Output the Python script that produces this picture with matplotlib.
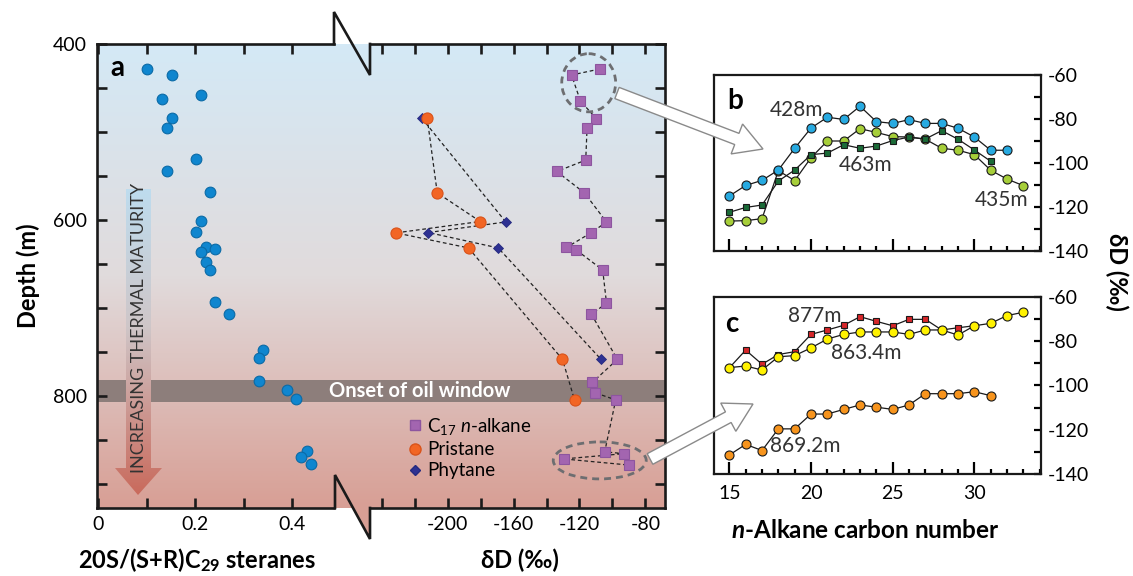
import numpy as np
import matplotlib
matplotlib.use('Agg')
import matplotlib.pyplot as plt
from matplotlib.colors import LinearSegmentedColormap
from matplotlib.patches import Polygon, Ellipse, Rectangle, FancyArrow
from matplotlib.lines import Line2D
from matplotlib.ticker import FixedLocator, MultipleLocator
import matplotlib.transforms as mtransforms

plt.rcParams['font.family'] = ['Lato', 'DejaVu Sans']
plt.rcParams['mathtext.fontset'] = 'custom'
plt.rcParams['mathtext.rm'] = 'Lato'
plt.rcParams['mathtext.it'] = 'Lato:italic'
plt.rcParams['mathtext.bf'] = 'Lato:bold'
plt.rcParams['mathtext.bfit'] = 'Lato:bold:italic'

# --- panel a: sterane isomerisation ratio vs depth
sterane_ratio = [0.101, 0.151, 0.131, 0.211, 0.151, 0.142, 0.201, 0.141, 0.230, 0.211,
                 0.201, 0.221, 0.240, 0.211, 0.221, 0.230, 0.240, 0.270, 0.339, 0.330,
                 0.330, 0.389, 0.408, 0.429, 0.418, 0.438]
sterane_depth = [428, 435, 462, 458, 484, 495, 530, 544, 568, 601,
                 613, 630, 633, 636, 647, 656, 693, 706, 747, 757,
                 783, 793, 803, 862, 869, 877]

# --- panel a: dD of C17 n-alkane, pristane, phytane
c17_depth = [428.4, 435.2, 464.8, 484.8, 495.8, 531.8, 544.7, 569, 602, 614, 631, 634,
             656.5, 694, 707, 758, 784, 796, 804, 863, 865, 871, 878]
c17_dD = [-107.7, -124.8, -119.4, -109.7, -115.4, -116.2, -133.8, -117.0, -103.6, -112.7,
          -127.9, -121.8, -105.9, -103.6, -112.7, -97.0, -112.1, -110.3, -98.0, -104.7,
          -92.7, -129.5, -89.7]
pristane_depth = [484, 569, 601.5, 614.4, 631.5, 758, 804]
pristane_dD = [-212.4, -206.3, -180.2, -231.3, -187.3, -130.3, -123.0]
phytane_depth = [484, 602, 614, 631.5, 758]
phytane_dD = [-215.8, -164.7, -211.7, -169.3, -106.9]

oil_window = (781, 806)

# --- panel b: n-alkane dD profiles
carbon_428 = list(range(15, 33))
dD_428 = [-115.0, -110.2, -107.9, -103.2, -93.3, -84.1, -79.2, -80.2, -74.2, -81.2,
          -82.0, -80.3, -82.0, -82.0, -84.2, -88.2, -94.2, -94.2]
carbon_463 = list(range(15, 32))
dD_463 = [-122.4, -120.2, -119.1, -108.2, -103.2, -96.2, -95.5, -91.7, -93.3, -92.3,
          -89.8, -88.2, -89.1, -85.3, -89.2, -94.1, -99.2]
carbon_435 = list(range(15, 34))
dD_435 = [-126.4, -126.2, -125.3, -103.5, -108.0, -97.6, -90.0, -90.0, -84.4, -86.1,
          -88.0, -88.2, -89.2, -93.3, -94.2, -96.2, -103.3, -107.3, -110.3]

# --- panel c
carbon_877 = list(range(15, 31))
dD_877 = [-92.0, -84.0, -90.4, -86.0, -84.7, -76.9, -74.9, -72.8, -68.9, -71.0,
          -73.0, -70.1, -70.1, -74.9, -73.9, -73.0]
carbon_863 = list(range(15, 34))
dD_863 = [-91.9, -91.2, -93.0, -87.0, -86.5, -83.0, -79.0, -76.9, -75.8, -75.8,
          -75.8, -76.9, -74.9, -74.9, -77.2, -73.0, -71.9, -68.4, -66.9]
carbon_869 = list(range(15, 32))
dD_869 = [-131.4, -126.6, -129.4, -119.6, -119.6, -112.9, -112.9, -110.8, -108.8, -109.8,
          -110.8, -108.8, -103.7, -103.7, -103.7, -102.8, -104.6]

W, H = 1133, 576
fig = plt.figure(figsize=(W / 100, H / 100), dpi=100)

TICK_FS = 14
LABEL_FS = 17
NOTE_FS = 15


def px_box(x0, y0, x1, y1):
    return [x0 / W, 1 - y1 / H, (x1 - x0) / W, (y1 - y0) / H]


# background / decoration layer in pixel coordinates
ax_bg = fig.add_axes([0, 0, 1, 1], zorder=0)
ax_bg.set_xlim(0, W)
ax_bg.set_ylim(H, 0)
ax_bg.axis('off')

bg_cmap = LinearSegmentedColormap.from_list(
    'bg', [(0, '#d4e9f6'), (0.5, '#e1dbdc'), (1, '#d89f95')])
grad = np.linspace(0, 1, 300)[:, None]
ax_bg.imshow(grad, extent=(97, 665, 508, 44), cmap=bg_cmap, aspect='auto',
             origin='upper', zorder=0)
ax_bg.add_patch(Polygon([(352, 507), (370, 507), (370, 539)], closed=True,
                        fc='#d89f95', ec='none', zorder=0))

# thermal maturity arrow
arr_cmap = LinearSegmentedColormap.from_list(
    'arr', [(0, '#bedcee'), (0.45, '#cfc6c8'), (1, '#c96a5c')])
arrow_poly = Polygon([(126, 189), (151, 189), (151, 468), (162, 468), (138, 495),
                      (115, 468), (126, 468)], closed=True, fc='none', ec='none')
ax_bg.add_patch(arrow_poly)
im = ax_bg.imshow(grad, extent=(115, 162, 495, 189), cmap=arr_cmap, aspect='auto',
                  origin='upper', zorder=3)
im.set_clip_path(arrow_poly)
ax_bg.text(139, 328, 'INCREASING THERMAL MATURITY', rotation=90, ha='center',
           va='center', fontsize=13, color='#333333', zorder=4)

# axis break zigzags
ax_bg.plot([334, 334, 370, 370], [44, 12, 75, 44], color='#1a1a1a', lw=1.9,
           solid_joinstyle='miter', zorder=5)
ax_bg.plot([335, 335, 370, 370], [508, 475, 539, 508], color='#1a1a1a', lw=1.9,
           solid_joinstyle='miter', zorder=5)

ylim_depth = (400 + (508 - 44.5) / 0.88, 400)

ax_left = fig.add_axes(px_box(97, 44, 334, 508), zorder=2)
ax_right = fig.add_axes(px_box(370, 44, 665, 508), zorder=2)

# oil window band across both parts
blend = mtransforms.blended_transform_factory(ax_bg.transData, ax_left.transData)
ax_bg.add_patch(Rectangle((97, oil_window[0]), 568, oil_window[1] - oil_window[0],
                          transform=blend, fc='#8d7e7b', ec='none', zorder=2))
ax_bg.text(420, (oil_window[0] + oil_window[1]) / 2, 'Onset of oil window',
           transform=blend, ha='center', va='center', color='white',
           fontsize=14.5, fontweight='bold', zorder=4)

for ax in (ax_left, ax_right):
    ax.patch.set_visible(False)
    ax.set_ylim(*ylim_depth)
    for s in ax.spines.values():
        s.set_linewidth(1.9)
        s.set_color('#1a1a1a')
    ax.yaxis.set_major_locator(FixedLocator([400, 600, 800]))
    ax.yaxis.set_minor_locator(MultipleLocator(50))
    ax.tick_params(which='both', direction='in', length=7, width=1.9,
                   top=True, bottom=True, labelsize=TICK_FS, color='#1a1a1a')

ax_left.spines['right'].set_visible(False)
ax_left.set_xlim(-0.003, 0.4856)
ax_left.xaxis.set_major_locator(FixedLocator([0, 0.2, 0.4]))
ax_left.xaxis.set_minor_locator(FixedLocator([0.1, 0.3]))
ax_left.set_xticklabels(['0', '0.2', '0.4'])
ax_left.tick_params(axis='y', which='both', left=True, right=False, pad=7)
ax_left.tick_params(axis='x', pad=6)
ax_left.set_ylabel('Depth (m)', fontsize=LABEL_FS, fontweight='bold', va='center')
ax_left.yaxis.set_label_coords((28 - 97) / 237, 0.5)
ax_left.set_xlabel(r'20S/(S+R)C$_{\mathbf{29}}$ steranes', fontsize=LABEL_FS,
                   fontweight='bold', va='center')
ax_left.xaxis.set_label_coords((197 - 97) / 237, -(560 - 508) / 464)
ax_left.plot(sterane_ratio, sterane_depth, 'o', ms=7.7, mfc='#0f86cf', mec='#0a6aa6',
             mew=0.8, zorder=3)
ax_left.text(0.04, 427, 'a', fontsize=20, fontweight='bold', ha='center', va='center')

ax_right.spines['left'].set_visible(False)
ax_right.set_xlim(-247.1, -68.1)
ax_right.xaxis.set_major_locator(FixedLocator([-200, -160, -120, -80]))
ax_right.xaxis.set_minor_locator(FixedLocator([-240, -220, -180, -140, -100]))
ax_right.set_xticklabels(['-200', '-160', '-120', '-80'])
ax_right.tick_params(axis='y', which='both', left=False, right=True, labelleft=False)
ax_right.tick_params(axis='x', pad=6)
ax_right.set_xlabel('δD (‰)', fontsize=LABEL_FS, fontweight='bold', va='center')
ax_right.xaxis.set_label_coords((520 - 370) / 295, -(560 - 508) / 464)

dash = dict(color='#222222', lw=0.9, ls=(0, (3, 2.2)), zorder=2)
ax_right.plot(c17_dD, c17_depth, **dash)
ax_right.plot(pristane_dD, pristane_depth, **dash)
ax_right.plot(phytane_dD, phytane_depth, **dash)
ax_right.plot(phytane_dD, phytane_depth, 'D', ms=5.6, mfc='#2e3192', mec='#252a80',
              mew=0.6, zorder=3)
ax_right.plot(pristane_dD, pristane_depth, 'o', ms=8, mfc='#f26524', mec='#d9531a',
              mew=0.8, zorder=3)
ax_right.plot(c17_dD, c17_depth, 's', ms=6.8, mfc='#a365b0', mec='#8d559f',
              mew=0.8, zorder=3)

ell = dict(fc='none', ec='#6d6e71', lw=2, ls=(0, (2.5, 1.8)), zorder=4)
ax_right.add_patch(Ellipse((-114.4, 444), 32.7, 66, **ell))
ax_right.add_patch(Ellipse((-107.7, 872.7), 56.4, 42, **ell))

handles = [
    Line2D([], [], marker='s', ls='none', ms=6.8, mfc='#a365b0', mec='#8d559f',
           label=r'C$_{17}$ $n$-alkane'),
    Line2D([], [], marker='o', ls='none', ms=8, mfc='#f26524', mec='#d9531a',
           label='Pristane'),
    Line2D([], [], marker='D', ls='none', ms=5.6, mfc='#2e3192', mec='#252a80',
           label='Phytane'),
]
ax_right.legend(handles=handles, loc='upper left', frameon=False, fontsize=13.5,
                bbox_to_anchor=(409 / W, 1 - 416 / H), bbox_transform=fig.transFigure,
                borderaxespad=0, borderpad=0, handlelength=0.6, handletextpad=0.35,
                labelspacing=0.22)

# --- panels b and c
ax_b = fig.add_axes(px_box(714, 75, 1041, 251), zorder=2)
ax_c = fig.add_axes(px_box(714, 297, 1041, 474), zorder=2)
for ax in (ax_b, ax_c):
    ax.set_xlim(14.06, 34.08)
    ax.set_ylim(-140, -60)
    for s in ax.spines.values():
        s.set_linewidth(1.6)
        s.set_color('#1a1a1a')
    ax.xaxis.set_major_locator(FixedLocator([15, 20, 25, 30]))
    ax.xaxis.set_minor_locator(MultipleLocator(1))
    ax.yaxis.set_major_locator(MultipleLocator(20))
    ax.yaxis.set_minor_locator(MultipleLocator(10))
    ax.yaxis.tick_right()
    ax.tick_params(axis='x', which='major', direction='in', length=8.5, width=1.6,
                   labelsize=TICK_FS, pad=8)
    ax.tick_params(axis='x', which='minor', direction='in', length=3.6, width=1.6)
    ax.tick_params(axis='y', which='both', direction='in', length=5, width=1.6,
                   left=False, right=True, labelsize=TICK_FS, pad=5)
    ax.set_yticks([-60, -80, -100, -120, -140])
    ax.set_yticklabels(['-60', '-80', '-100', '-120', '-140'])
ax_b.tick_params(axis='x', labelbottom=False)

line = dict(color='#1a1a1a', lw=0.9, mec='#1a1a1a', mew=0.8)
ax_b.plot(carbon_435, dD_435, marker='o', ms=6.5, mfc='#a6ce39', zorder=2, **line)
ax_b.plot(carbon_463, dD_463, marker='s', ms=4.6, mfc='#1b6b38', zorder=3, **line)
ax_b.plot(carbon_428, dD_428, marker='o', ms=6.5, mfc='#27aae1', zorder=4, **line)
ax_b.text(19.1, -75.9, '428m', fontsize=NOTE_FS, ha='center', va='center', color='#333333')
ax_b.text(23.35, -100.9, '463m', fontsize=NOTE_FS, ha='center', va='center', color='#333333')
ax_b.text(31.68, -116.8, '435m', fontsize=NOTE_FS, ha='center', va='center', color='#333333')
ax_b.text(0.04, 0.85, 'b', transform=ax_b.transAxes, fontsize=20, fontweight='bold',
          ha='left', va='center')

ax_c.plot(carbon_877, dD_877, marker='s', ms=4.6, mfc='#d7272a', zorder=2, **line)
ax_c.plot(carbon_863, dD_863, marker='o', ms=6.5, mfc='#fff200', zorder=3, **line)
ax_c.plot(carbon_869, dD_869, marker='o', ms=6.5, mfc='#f7941d', zorder=3, **line)
ax_c.text(20.2, -68.6, '877m', fontsize=NOTE_FS, ha='center', va='center', color='#333333')
ax_c.text(23.37, -85.4, '863.4m', fontsize=NOTE_FS, ha='center', va='center', color='#333333')
ax_c.text(19.63, -127.3, '869.2m', fontsize=NOTE_FS, ha='center', va='center', color='#333333')
ax_c.text(0.035, 0.85, 'c', transform=ax_c.transAxes, fontsize=20, fontweight='bold',
          ha='left', va='center')
ax_c.set_xlabel(r'$\mathbfit{n}$-Alkane carbon number', fontsize=LABEL_FS + 0.5,
                fontweight='bold', va='center')
ax_c.xaxis.set_label_coords((865 - 714) / 327, -(531 - 474) / 177)

fig.text(1117 / W, 1 - 272 / H, 'δD (‰)', rotation=270, ha='center', va='center',
         fontsize=LABEL_FS, fontweight='bold')

# foreground: hollow arrows linking panels
ax_fg = fig.add_axes([0, 0, 1, 1], zorder=6)
ax_fg.set_xlim(0, W)
ax_fg.set_ylim(H, 0)
ax_fg.axis('off')
ax_fg.add_patch(FancyArrow(617, 93, 146, 56, width=12, head_width=32, head_length=28,
                           length_includes_head=True, fc='white', ec='#8a8a8a', lw=1))
ax_fg.add_patch(FancyArrow(650, 459, 103, -55, width=12, head_width=32, head_length=28,
                           length_includes_head=True, fc='white', ec='#8a8a8a', lw=1))

fig.savefig('out.png', dpi=100)
